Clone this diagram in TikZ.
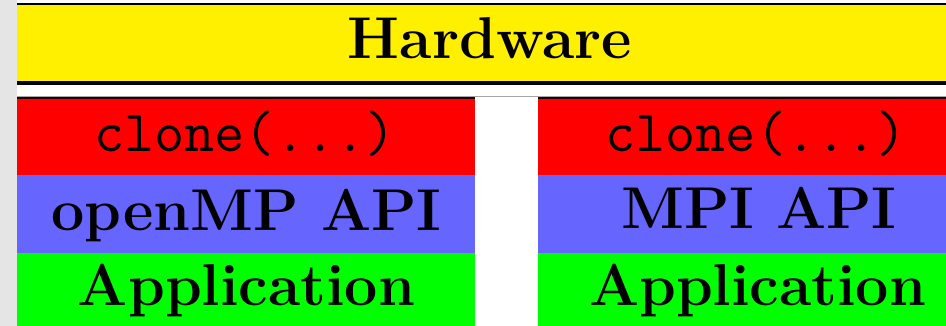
\documentclass[tikz,border=0pt]{standalone}
\definecolor{bggray}{RGB}{229,229,229}
\definecolor{hwyellow}{RGB}{255,240,0}
\definecolor{layred}{RGB}{255,0,0}
\definecolor{layblue}{RGB}{102,102,255}
\definecolor{laygreen}{RGB}{0,255,0}
\begin{document}
\begin{tikzpicture}[x=1pt,y=-1pt,
  band/.style={draw=none, inner sep=0pt, outer sep=0pt, anchor=north west},
  lbl/.style={anchor=base, inner sep=0pt, font=\fontsize{59}{70}\selectfont\bfseries},
  ttl/.style={anchor=base, inner sep=0pt, font=\fontsize{58.5}{70}\selectfont\ttfamily}]
\useasboundingbox (0,0) rectangle (946,326);
\clip (0,0) rectangle (946,326);
\fill[bggray] (0,0) rectangle (17,326);
% hardware bar
\node[band, fill=hwyellow, minimum width=946pt, minimum height=78pt] (hw) at (17,4) {};
\draw[line width=2pt] (hw.north west) -- (hw.north east);
\draw[line width=4pt] ([yshift=-1pt]hw.south west) -- ([yshift=-1pt]hw.south east);
\node[lbl] (hwt) at (490,59) {Hardware};
% separator line
\coordinate (sepl) at (17,97);
\coordinate (sepr) at (946,97);
\draw[black!35, line width=1pt] (sepl) -- (sepr);
% left column
\node[band, fill=layred, minimum width=458pt, minimum height=77pt] (lr) at (17,98) {};
\node[band, fill=layblue, minimum width=458pt, minimum height=77.5pt] (lb) at (17,175) {};
\node[band, fill=laygreen, minimum width=458pt, minimum height=75pt] (lg) at (17,252.5) {};
\draw[black!85!red, line width=1.5pt] (lr.north west) -- (lr.north east);
\node[ttl] (lrt) at (245,151.7) {clone(...)};
\node[lbl] (lbt) at (246.5,230) {openMP API};
\node[lbl] (lgt) at (246.5,305.5) {Application};
% right column
\node[band, fill=layred, minimum width=438pt, minimum height=77pt] (rr) at (538,98) {};
\node[band, fill=layblue, minimum width=438pt, minimum height=77.5pt] (rb) at (538,175) {};
\node[band, fill=laygreen, minimum width=438pt, minimum height=75pt] (rg) at (538,252.5) {};
\draw[black!85!red, line width=1.5pt] (rr.north west) -- (rr.north east);
\node[ttl] (rrt) at (756,151.7) {clone(...)};
\node[lbl] (rbt) at (759,229) {MPI API};
\node[lbl] (rgt) at (757.5,305.5) {Application};
\end{tikzpicture}
\end{document}
